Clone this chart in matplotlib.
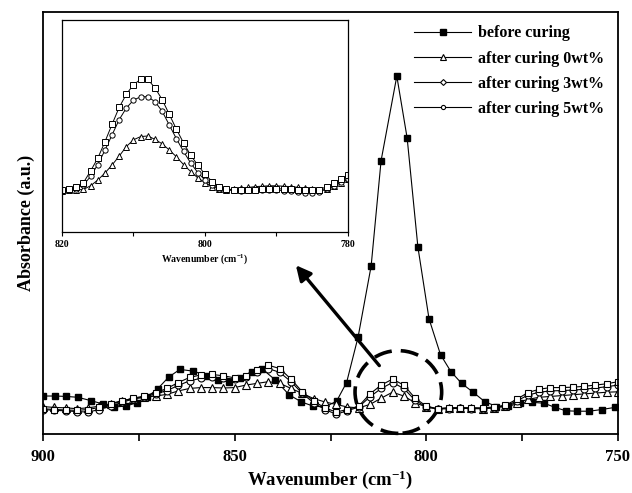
import numpy as np
import matplotlib
matplotlib.use("Agg")
import matplotlib.pyplot as plt
from matplotlib.lines import Line2D
from matplotlib.patches import Ellipse

plt.rcParams['font.family'] = ['Liberation Serif', 'DejaVu Serif']
plt.rcParams['font.weight'] = 'bold'
plt.rcParams['mathtext.fontset'] = 'custom'
plt.rcParams['mathtext.rm'] = 'Liberation Serif:bold'
plt.rcParams['mathtext.bf'] = 'Liberation Serif:bold'
plt.rcParams['mathtext.default'] = 'bf'

# ---- main spectrum (normalised absorbance, arbitrary units) ----
before_x = [900, 896.9, 893.9, 890.9, 887.5, 884.3, 881.5, 878.4, 875.6, 872.8,
            870.1, 867.2, 864.3, 860.8, 857.3, 854.3, 851.5, 848.6, 845.6, 842.8,
            839.4, 835.8, 832.6, 829.5, 826.4, 823.4, 820.8, 817.8, 814.4, 811.8,
            807.7, 805.0, 802.2, 799.3, 796.3, 793.6, 790.8, 787.8, 784.8, 781.7,
            778.6, 775.5, 772.4, 769.3, 766.4, 763.6, 760.6, 757.5, 754.3, 750.8]
before_y = [0.090, 0.090, 0.089, 0.087, 0.079, 0.071, 0.064, 0.066, 0.074, 0.088,
            0.107, 0.135, 0.153, 0.149, 0.138, 0.129, 0.123, 0.133, 0.148, 0.154,
            0.128, 0.093, 0.076, 0.066, 0.064, 0.078, 0.122, 0.230, 0.398, 0.648,
            0.848, 0.701, 0.443, 0.273, 0.188, 0.148, 0.120, 0.099, 0.077, 0.065,
            0.066, 0.073, 0.075, 0.073, 0.063, 0.055, 0.054, 0.054, 0.058, 0.063]

wn = np.linspace(900, 750, 52)
cure0 = [0.065, 0.063, 0.062, 0.060, 0.062, 0.066, 0.072, 0.079, 0.084, 0.087,
         0.090, 0.094, 0.102, 0.108, 0.110, 0.110, 0.109, 0.110, 0.116, 0.120,
         0.124, 0.120, 0.108, 0.096, 0.084, 0.076, 0.070, 0.064, 0.062, 0.070,
         0.085, 0.099, 0.090, 0.074, 0.064, 0.060, 0.062, 0.062, 0.062, 0.060,
         0.062, 0.066, 0.074, 0.082, 0.087, 0.089, 0.091, 0.093, 0.095, 0.097,
         0.099, 0.100]
cure3 = [0.058, 0.056, 0.055, 0.053, 0.052, 0.058, 0.066, 0.075, 0.083, 0.088,
         0.095, 0.103, 0.115, 0.126, 0.132, 0.134, 0.133, 0.130, 0.134, 0.146,
         0.155, 0.146, 0.124, 0.096, 0.074, 0.058, 0.047, 0.055, 0.064, 0.088,
         0.108, 0.122, 0.108, 0.080, 0.064, 0.059, 0.060, 0.061, 0.060, 0.060,
         0.062, 0.066, 0.078, 0.092, 0.099, 0.102, 0.103, 0.104, 0.106, 0.109,
         0.112, 0.116]
cure5 = [0.060, 0.058, 0.057, 0.056, 0.058, 0.063, 0.070, 0.078, 0.085, 0.090,
         0.098, 0.108, 0.122, 0.134, 0.140, 0.141, 0.138, 0.133, 0.138, 0.152,
         0.163, 0.155, 0.130, 0.100, 0.078, 0.062, 0.052, 0.058, 0.066, 0.095,
         0.116, 0.130, 0.116, 0.085, 0.066, 0.060, 0.062, 0.062, 0.062, 0.062,
         0.064, 0.068, 0.082, 0.098, 0.106, 0.110, 0.110, 0.111, 0.113, 0.116,
         0.119, 0.124]

# ---- inset 820-780 cm-1 ----
inset_wn = np.arange(820, 779, -1)
in0 = [0.195, 0.196, 0.198, 0.201, 0.218, 0.245, 0.278, 0.316, 0.358, 0.403,
       0.435, 0.450, 0.453, 0.437, 0.416, 0.387, 0.355, 0.318, 0.285, 0.255,
       0.233, 0.214, 0.203, 0.200, 0.202, 0.206, 0.210, 0.214, 0.216, 0.218,
       0.218, 0.216, 0.214, 0.211, 0.208, 0.204, 0.200, 0.203, 0.215, 0.232,
       0.250]
in3 = [0.198, 0.199, 0.205, 0.222, 0.262, 0.318, 0.385, 0.458, 0.530, 0.585,
       0.622, 0.638, 0.638, 0.615, 0.570, 0.505, 0.440, 0.380, 0.325, 0.280,
       0.245, 0.220, 0.205, 0.198, 0.196, 0.195, 0.196, 0.198, 0.200, 0.200,
       0.198, 0.195, 0.192, 0.188, 0.185, 0.185, 0.190, 0.202, 0.218, 0.235,
       0.252]
in5 = [0.200, 0.201, 0.212, 0.233, 0.288, 0.348, 0.425, 0.508, 0.588, 0.650,
       0.695, 0.720, 0.720, 0.680, 0.625, 0.555, 0.485, 0.420, 0.362, 0.315,
       0.272, 0.238, 0.214, 0.202, 0.198, 0.196, 0.197, 0.200, 0.202, 0.204,
       0.204, 0.203, 0.201, 0.198, 0.196, 0.196, 0.200, 0.214, 0.230, 0.250,
       0.270]

labels = ['before curing', 'after curing 0wt%', 'after curing 3wt%', 'after curing 5wt%']

fig = plt.figure(figsize=(6.32, 4.93), dpi=100)
ax = fig.add_axes([43/632, 1-434/493, 575/632, 422/493])

lw = 0.8
ax.plot(before_x, before_y, '-s', color='black', lw=lw, ms=4.8, mfc='black', mec='black')
ax.plot(wn, cure0, '-^', color='black', lw=lw, ms=5.5, mfc='white', mew=0.8)
ax.plot(wn, cure3, '-o', color='black', lw=lw, ms=5, mfc='white', mew=0.8)
ax.plot(wn, cure5, '-s', color='black', lw=lw, ms=5, mfc='white', mew=0.8)

ax.set_xlim(900, 750)
ax.set_ylim(0, 1)
ax.set_yticks([])
ax.set_xticks([900, 875, 850, 825, 800, 775, 750])
ax.set_xticklabels(['900', '', '850', '', '800', '', '750'], fontsize=12, fontweight='bold')
ax.tick_params(axis='x', direction='out', length=5, width=1.2, pad=6)
for s in ax.spines.values():
    s.set_linewidth(1.3)
ax.set_xlabel('Wavenumber (cm$^{-1}$)', fontsize=13.5, fontweight='bold', labelpad=2)
ax.set_ylabel('Absorbance (a.u.)', fontsize=13, fontweight='bold', labelpad=6)

# dashed circle and arrow
circ = Ellipse((807.3, 0.0995), width=22.6, height=0.196, fill=False,
               ec='black', lw=2.6, ls=(0, (5, 2.5)), clip_on=False)
ax.add_patch(circ)
ax.annotate('', xy=(834.5, 0.405), xytext=(811.8, 0.157),
            arrowprops=dict(arrowstyle='-|>,head_length=0.9,head_width=0.45',
                            color='black', lw=2.4))

handles = [Line2D([], [], color='black', lw=lw, marker='s', ms=4, mfc='black'),
           Line2D([], [], color='black', lw=lw, marker='^', ms=4, mfc='white', mew=0.8),
           Line2D([], [], color='black', lw=lw, marker='D', ms=3, mfc='white', mew=0.8),
           Line2D([], [], color='black', lw=lw, marker='o', ms=3, mfc='white', mew=0.8)]
ax.legend(handles, labels, loc='upper right', bbox_to_anchor=(0.995, 0.995),
          frameon=False, fontsize=11.5, handlelength=3.6, handletextpad=0.4,
          labelspacing=0.58, borderaxespad=0.3)

# inset
ins = fig.add_axes([62/632, 1-232/493, 286/632, 212/493])
ins.plot(inset_wn, in0, '-^', color='black', lw=0.7, ms=4, mfc='white', mew=0.7)
ins.plot(inset_wn, in3, '-o', color='black', lw=0.7, ms=3.8, mfc='white', mew=0.7)
ins.plot(inset_wn, in5, '-s', color='black', lw=0.7, ms=3.8, mfc='white', mew=0.7)
ins.set_xlim(820, 780)
ins.set_ylim(0, 1)
ins.set_yticks([])
ins.set_xticks([820, 810, 800, 790, 780])
ins.set_xticklabels(['820', '', '800', '', '780'], fontsize=7)
ins.tick_params(axis='x', direction='out', length=3, width=0.8, pad=3)
for s in ins.spines.values():
    s.set_linewidth(0.9)
ins.set_xlabel('Wavenumber (cm$^{-1}$)', fontsize=7, fontweight='bold', labelpad=2)

fig.savefig('out.png', dpi=100)
